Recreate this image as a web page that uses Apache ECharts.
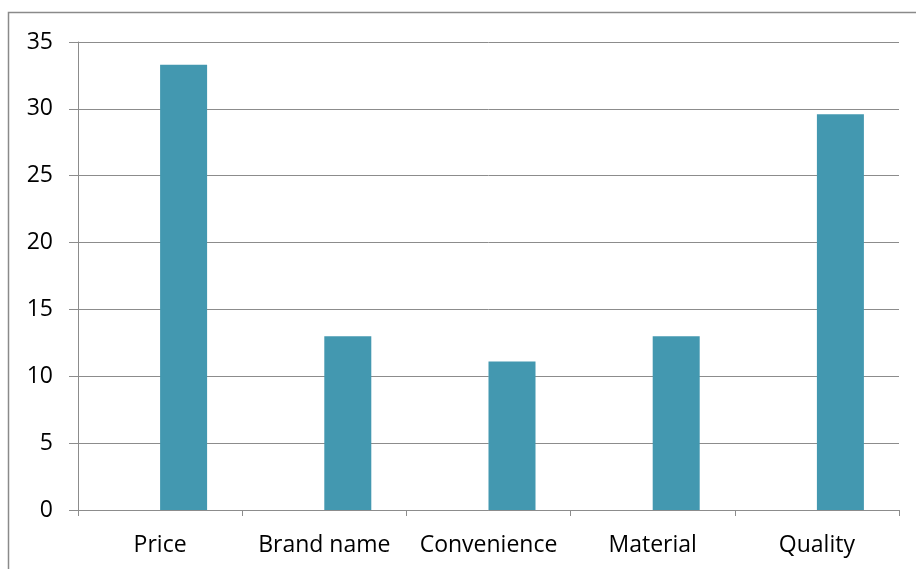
<!DOCTYPE html>
<html>
<head>
<meta charset="utf-8">
<script src="https://cdn.jsdelivr.net/npm/echarts@6/dist/echarts.min.js"></script>
<style>
  html, body { margin: 0; padding: 0; background: #fff; }
  #chart { width: 916px; height: 569px; }
</style>
</head>
<body>
<div id="chart"></div>
<script>
// Share of respondents naming each factor (%)
const categories = ['Price', 'Brand name', 'Convenience', 'Material', 'Quality'];
const percentValues = [33.3, 13, 11.1, 13, 29.6];
// Empty companion series: keeps each bar in the right half of its slot
const emptySlot = ['-', '-', '-', '-', '-'];
const yTicks = { min: 0, max: 35, interval: 5 };

const gridColor = '#8c8c8c';
const barColor = '#4398b0';
const font = '"Open Sans", Calibri, sans-serif';

const chart = echarts.init(document.getElementById('chart'), null, { renderer: 'canvas' });
chart.setOption({
  animation: false,
  backgroundColor: '#ffffff',
  graphic: [{
    type: 'rect',
    shape: { x: 8.5, y: 12.5, width: 930, height: 580 },
    style: { fill: null, stroke: '#8a8a8a', lineWidth: 1.5 },
    silent: true,
    z: -1
  }],
  grid: { left: 78, right: 17, top: 42, bottom: 59, containLabel: false },
  xAxis: {
    type: 'category',
    data: categories,
    axisLine: { show: true, lineStyle: { color: gridColor, width: 1 } },
    axisTick: { show: true, length: 6, alignWithLabel: false, lineStyle: { color: gridColor } },
    axisLabel: { color: '#000', fontFamily: font, fontSize: 23, margin: 24, interval: 0 },
    splitLine: { show: false }
  },
  yAxis: {
    type: 'value',
    min: yTicks.min,
    max: yTicks.max,
    interval: yTicks.interval,
    axisLine: { show: true, lineStyle: { color: gridColor, width: 1 } },
    axisTick: { show: true, length: 9, lineStyle: { color: gridColor } },
    axisLabel: { color: '#000', fontFamily: font, fontSize: 23, margin: 25 },
    splitLine: { show: true, lineStyle: { color: gridColor, width: 1 } }
  },
  series: [
    {
      type: 'bar',
      data: emptySlot,
      barWidth: 47,
      barGap: '0%',
      itemStyle: { color: 'transparent' },
      silent: true
    },
    {
      type: 'bar',
      data: percentValues,
      barWidth: 47,
      barGap: '0%',
      itemStyle: { color: barColor }
    }
  ]
});
</script>
</body>
</html>
